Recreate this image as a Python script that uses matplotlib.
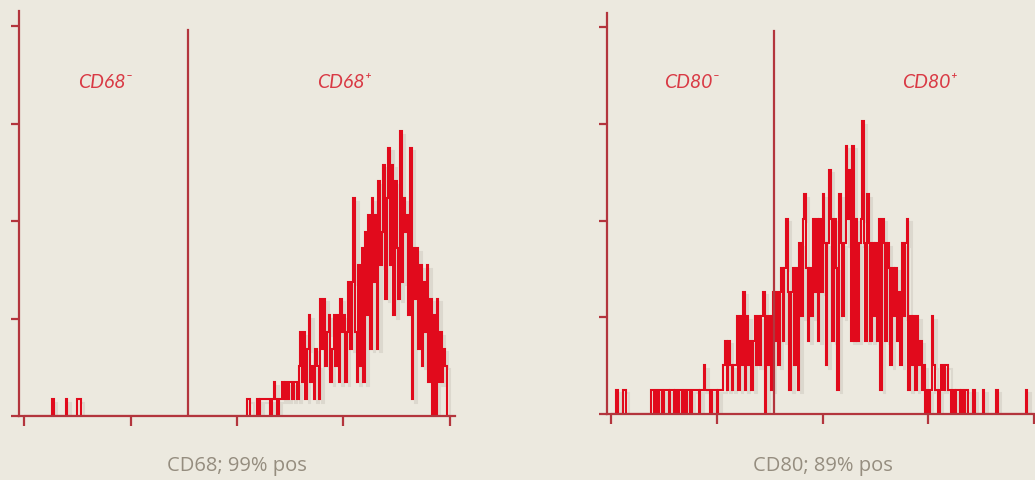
import numpy as np
import matplotlib
matplotlib.use("Agg")
import matplotlib.pyplot as plt
import matplotlib.patheffects as pe

# flow histograms, 256 channels of 4 (0..1024)
cd68_counts = [
    0, 0, 0, 0, 0, 0, 0, 0, 0, 0, 0, 0, 0, 0, 0, 0,
    0, 1, 0, 0, 0, 0, 0, 0, 0, 1, 0, 0, 0, 0, 0, 0,
    1, 1, 0, 0, 0, 0, 0, 0, 0, 0, 0, 0, 0, 0, 0, 0,
    0, 0, 0, 0, 0, 0, 0, 0, 0, 0, 0, 0, 0, 0, 0, 0,
    0, 0, 0, 0, 0, 0, 0, 0, 0, 0, 0, 0, 0, 0, 0, 0,
    0, 0, 0, 0, 0, 0, 0, 0, 0, 0, 0, 0, 0, 0, 0, 0,
    0, 0, 0, 0, 0, 0, 0, 0, 0, 0, 0, 0, 0, 0, 0, 0,
    0, 0, 0, 0, 0, 0, 0, 0, 0, 0, 0, 0, 0, 0, 0, 0,
    0, 0, 0, 0, 0, 0, 1, 1, 0, 0, 0, 0, 1, 0, 1, 1,
    1, 1, 1, 1, 0, 1, 2, 1, 0, 1, 1, 2, 1, 2, 1, 2,
    2, 1, 2, 2, 1, 3, 5, 2, 5, 1, 4, 6, 2, 3, 1, 4,
    3, 1, 7, 4, 7, 3, 5, 6, 2, 4, 6, 3, 6, 2, 7, 5,
    6, 2, 5, 8, 4, 8, 13, 5, 2, 9, 3, 10, 2, 11, 6, 12,
    4, 13, 8, 12, 4, 14, 9, 11, 15, 7, 13, 16, 9, 15, 6, 14,
    10, 7, 17, 8, 13, 11, 12, 6, 16, 1, 10, 7, 10, 4, 9, 3,
    8, 5, 9, 2, 7, 0, 6, 0, 7, 2, 5, 2, 4, 3, 0, 0,
]
cd80_counts = [
    0, 0, 0, 1, 0, 0, 0, 1, 1, 0, 0, 0, 0, 0, 0, 0,
    0, 0, 0, 0, 0, 0, 0, 0, 1, 1, 0, 1, 0, 1, 1, 0,
    1, 1, 1, 0, 1, 1, 0, 1, 0, 1, 1, 0, 1, 0, 1, 1,
    0, 1, 1, 1, 1, 0, 1, 1, 2, 1, 1, 1, 0, 1, 1, 1,
    0, 1, 1, 1, 2, 3, 1, 3, 2, 1, 2, 2, 4, 1, 4, 2,
    5, 1, 4, 2, 3, 1, 3, 4, 2, 4, 2, 4, 5, 0, 4, 2,
    4, 1, 5, 3, 5, 2, 5, 6, 3, 6, 8, 5, 1, 5, 6, 2,
    6, 1, 7, 4, 8, 9, 6, 3, 6, 4, 8, 5, 8, 3, 8, 5,
    9, 7, 2, 7, 10, 8, 3, 8, 6, 1, 9, 7, 4, 7, 11, 8,
    10, 3, 11, 3, 8, 3, 7, 8, 12, 7, 3, 9, 7, 3, 7, 4,
    7, 3, 8, 1, 8, 7, 3, 7, 6, 2, 6, 4, 6, 3, 5, 2,
    7, 4, 7, 8, 1, 4, 2, 4, 1, 4, 2, 3, 1, 2, 0, 1,
    0, 1, 4, 2, 1, 1, 0, 1, 2, 1, 2, 2, 1, 1, 0, 1,
    0, 1, 1, 0, 1, 0, 1, 1, 0, 0, 0, 1, 0, 0, 0, 0,
    0, 1, 0, 0, 0, 0, 0, 0, 0, 1, 0, 0, 0, 0, 0, 0,
    0, 0, 0, 0, 0, 0, 0, 0, 0, 0, 0, 1, 0, 0, 0, 0,
]
markers = ["CD68", "CD80"]
pct_pos = [99, 89]
gate_channel = [394, 395]
x_ticks = [0, 256, 512, 768, 1024]

bg = "#ece9df"
axis_red = "#b3353d"
hist_red = "#e10a1c"
label_red = "#d93a45"
grey = "#958d7f"

W, H = 1035, 481
fig = plt.figure(figsize=(W / 100, H / 100), dpi=100, facecolor=bg)
edges = np.arange(257) * 4

# panel geometry in pixels
panels = [
    dict(counts=cd68_counts, x0=24, span=426, spx=19, rpx=455, base=417, top=12,
         unit=16.76, tstep=97.5, gate_top=31, lab_y=82),
    dict(counts=cd80_counts, x0=611, span=423, spx=607, rpx=1035, base=415, top=14,
         unit=24.4, tstep=96.75, gate_top=32, lab_y=82),
]

for i, p in enumerate(panels):
    ax = fig.add_axes([p["spx"] / W, (H - p["base"]) / H,
                       (p["rpx"] - p["spx"]) / W, (p["base"] - p["top"]) / H])
    ax.set_facecolor("none")
    scale = 1024 / p["span"]
    ax.set_xlim((p["spx"] - p["x0"]) * scale, (p["rpx"] - p["x0"]) * scale)
    ymax = (p["base"] - p["top"]) / p["unit"]
    ax.set_ylim(0, ymax)

    ax.stairs(p["counts"], edges, color=hist_red, lw=1.5,
              path_effects=[pe.SimpleLineShadow(offset=(2.5, -2.5), shadow_color="#6e6454", alpha=0.12),
                            pe.Normal()])

    g = gate_channel[i]
    ax.plot([g, g], [0, (p["base"] - p["gate_top"]) / p["unit"]], color=axis_red, lw=1.6)

    for s in ["top", "right"]:
        ax.spines[s].set_visible(False)
    for s in ["left", "bottom"]:
        ax.spines[s].set_color(axis_red)
        ax.spines[s].set_linewidth(1.6)
    ax.set_xticks(x_ticks)
    ax.set_yticks(np.arange(5) * p["tstep"] / p["unit"])
    ax.tick_params(axis="x", direction="out", length=7.5, width=1.6, color=axis_red,
                   labelbottom=False)
    ax.tick_params(axis="y", direction="out", length=6, width=1.6, color=axis_red,
                   labelleft=False)

    ly = (p["base"] - p["lab_y"]) / p["unit"]
    ax.text(g * 0.495, ly, markers[i] + "\u207b", color=label_red, fontsize=14,
            style="italic", ha="center", va="center", family=["Lato", "DejaVu Sans"])
    ax.text(770, ly, markers[i] + "\u207a", color=label_red, fontsize=14,
            style="italic", ha="center", va="center", family=["Lato", "DejaVu Sans"])

    cx = p["x0"] + p["span"] / 2
    fig.text(cx / W, (H - 466) / H, f"{markers[i]}; {pct_pos[i]}% pos", color=grey,
             fontsize=14.5, ha="center", va="center", family=["Open Sans", "DejaVu Sans"])

fig.savefig("out.png", dpi=100, facecolor=bg)
